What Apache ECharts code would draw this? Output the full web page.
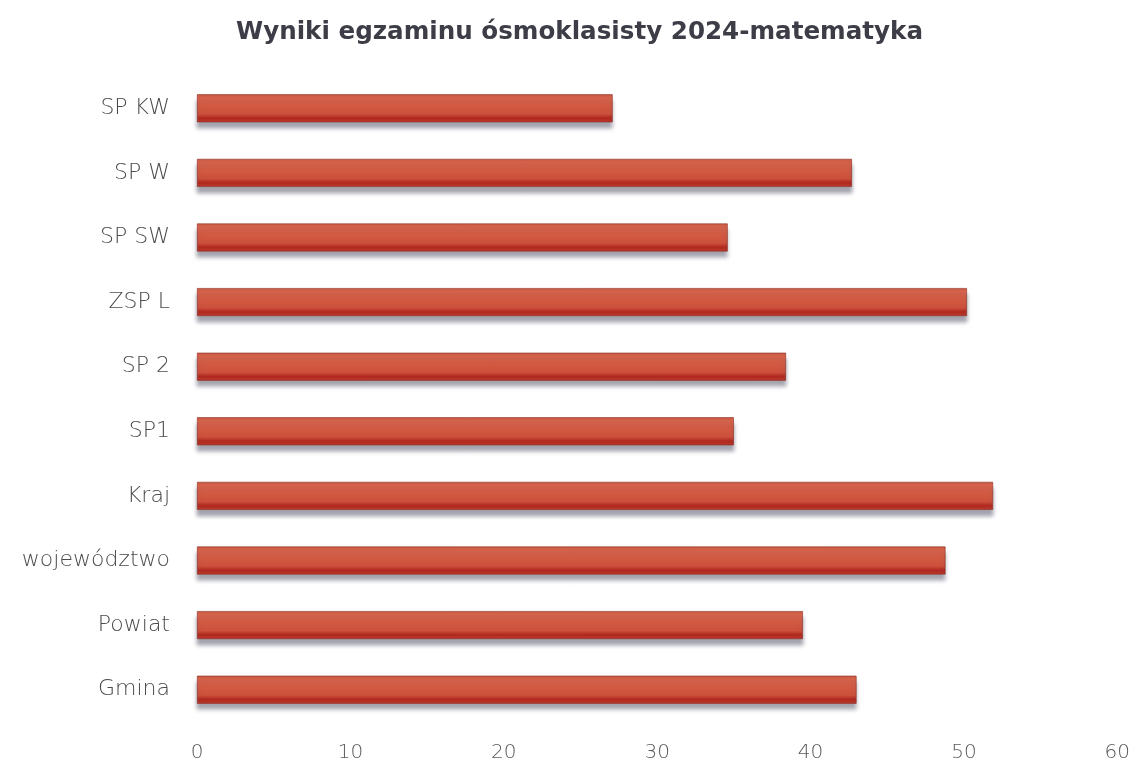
<!DOCTYPE html>
<html>
<head>
<meta charset="utf-8">
<script src="https://cdn.jsdelivr.net/npm/echarts@6/dist/echarts.min.js"></script>
<style>html,body{margin:0;padding:0;background:#fff}#c{width:1133px;height:765px}</style>
</head>
<body>
<div id="c"></div>
<script>
const titleText = 'Wyniki egzaminu ósmoklasisty 2024-matematyka';
const categories = ['SP KW', 'SP W', 'SP SW', 'ZSP L', 'SP 2', 'SP1', 'Kraj', 'województwo', 'Powiat', 'Gmina'];
const values = [27.1, 42.7, 34.6, 50.2, 38.4, 35.0, 51.9, 48.8, 39.5, 43.0];
const xTicks = [0, 10, 20, 30, 40, 50, 60];

const chart = echarts.init(document.getElementById('c'));
chart.setOption({
  backgroundColor: '#ffffff',
  animation: false,
  title: {
    text: titleText,
    left: 231,
    top: 15,
    textStyle: { fontFamily: 'DejaVu Sans', fontSize: 24.6, fontWeight: 'bold', color: '#3d3d47' }
  },
  grid: { left: 197, right: 15, top: 76, bottom: 43, containLabel: false },
  xAxis: {
    type: 'value',
    min: xTicks[0],
    max: xTicks[xTicks.length - 1],
    interval: 10,
    axisLine: { show: false },
    axisTick: { show: false },
    splitLine: { show: false },
    axisLabel: { fontFamily: 'DejaVu Sans', fontSize: 20, fontWeight: 200, color: '#5a5a5a', margin: 21 }
  },
  yAxis: {
    type: 'category',
    inverse: true,
    data: categories,
    axisLine: { show: false },
    axisTick: { show: false },
    axisLabel: { fontFamily: 'DejaVu Sans', fontSize: 22, fontWeight: 200, color: '#4a4a4a', margin: 27 }
  },
  series: [{
    type: 'bar',
    data: values,
    barWidth: 28,
    itemStyle: {
      color: new echarts.graphic.LinearGradient(0, 0, 0, 1, [
        { offset: 0, color: '#c45a44' },
        { offset: 0.12, color: '#d9634a' },
        { offset: 0.7, color: '#cc503b' },
        { offset: 0.85, color: '#b0281f' },
        { offset: 1, color: '#bb3a2c' }
      ]),
      borderColor: '#8a2a1e',
      borderWidth: 0.6,
      shadowColor: 'rgba(90,90,110,0.55)',
      shadowBlur: 4,
      shadowOffsetY: 6,
      shadowOffsetX: 0
    }
  }]
});
</script>
</body>
</html>
